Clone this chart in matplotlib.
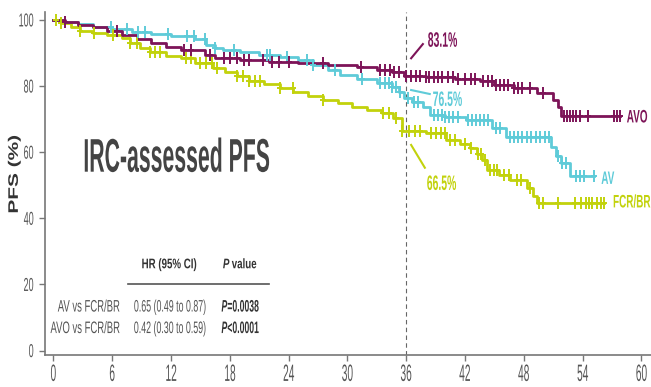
import numpy as np
import matplotlib
matplotlib.use("Agg")
import matplotlib.pyplot as plt
from matplotlib import patheffects
from matplotlib.path import Path
from matplotlib.text import Text
from matplotlib.transforms import Affine2D, Bbox

plt.rcParams['font.family'] = ['Liberation Sans', 'DejaVu Sans']

# step curves: event times (months) and PFS (%) after each event
avo_t = [0, 1.2, 2.5, 4, 5.5, 7, 8.5, 10, 11.5, 13, 15.5, 16.5, 19, 22, 25, 28, 31, 33,
         34.5, 35.8, 38, 41, 43.5, 45, 47, 49.3, 51, 51.5, 51.8]
avo_s = [100, 99.3, 98.6, 97.8, 96.7, 95.5, 94.3, 93, 91.8, 90.9, 89.5, 88.4, 87.9, 87.4,
         86.9, 86.4, 85.9, 84.9, 84.2, 83.1, 82.6, 82, 81.4, 80.2, 79.4, 77.8, 75.8, 73.8, 70.8]
avo_end = 57.8

av_t = [0, 1, 2.5, 4, 6, 8, 10, 12, 14.5, 15.6, 16.5, 17.3, 19, 21, 23.1, 25, 26.5, 28,
        29.2, 31, 33, 34.5, 35.3, 35.8, 36.6, 37.7, 38.4, 40, 42.1, 44.8, 46.2, 50.8, 51.3,
        51.8, 52.7]
av_s = [100, 99.4, 98.8, 98, 97.4, 96.5, 95.8, 95, 94.3, 92.4, 91.6, 90.9, 90.2, 89.5,
        88.9, 87.8, 86.4, 84.8, 83.4, 82.2, 80.9, 79.8, 78.2, 76.5, 75.2, 73.8, 71.3, 70.5,
        69.8, 67.3, 64.7, 61.7, 58.7, 56.7, 52.7]
av_end = 55.2

fcr_t = [0, 0.8, 1.8, 2.7, 4, 5.5, 7, 7.8, 8.8, 9.9, 11.5, 13, 14.5, 16.3, 17.5, 18.7, 20,
         21.5, 23.1, 24.5, 26, 27.5, 29, 30.5, 32, 33.5, 34.7, 35.6, 38, 40.1, 41.5, 42.5,
         43.2, 43.7, 44.2, 45.5, 46.6, 48.3, 48.9, 49.3]
fcr_s = [100, 99, 98, 96.8, 96, 95.3, 94.5, 93, 91.5, 90.2, 89.2, 88.4, 87, 85.4, 84.2,
         82.9, 81.6, 80.5, 79.3, 78.3, 77, 75.8, 74.8, 73.8, 72.8, 71.8, 70.3, 66.5, 65.8,
         63.7, 62.5, 61.2, 59.5, 57.7, 54.7, 53.2, 51.7, 49.2, 46.6, 44.6]
fcr_end = 56.2

# censoring times
avo_cens = [1.2, 6.5, 13.3, 14, 16, 17.4, 18, 18.7, 19.4, 20, 21.4, 22.3, 23, 24, 27.5,
            31.4, 33.3, 33.8, 34.3, 34.8, 35.3, 36, 36.5, 37, 37.4, 38, 38.3, 38.8, 39.2,
            39.7, 40.3, 40.8, 41.3, 42, 42.6, 43, 43.8, 44.3, 44.8, 45.2, 45.6, 46, 46.4,
            47, 47.4, 47.8, 48.6, 50, 52.1, 52.4, 52.7, 53, 53.3, 53.7, 54.5, 57.2, 57.5, 57.8]
av_cens = [5.9, 7.5, 8.6, 9.4, 11.7, 13.6, 14.3, 15.5, 16.5, 18.4, 21.8, 22.1, 23.8, 25.9,
           26.5, 28.7, 31.5, 33.3, 33.8, 34.2, 34.6, 35, 35.4, 36.2, 36.8, 37.2, 38.8, 39.2,
           39.6, 40, 40.4, 40.8, 41.3, 42.3, 42.7, 43.1, 43.5, 43.9, 44.3, 45.2, 45.6, 46.6,
           47, 47.4, 47.8, 48.3, 48.7, 49.2, 49.6, 50.2, 50.6, 51.5, 51.9, 52.3, 53.3, 53.7,
           54.1, 55.2]
fcr_cens = [0.3, 0.8, 2.7, 4.1, 6.1, 7.8, 8.5, 9.9, 10.4, 10.9, 13.5, 14, 15, 15.6, 16.2,
            16.7, 18.7, 19.3, 20, 20.6, 21.1, 23.1, 24.4, 27.5, 33.6, 34.2, 35, 35.6, 36.3,
            36.9, 37.4, 38.5, 39, 39.5, 40, 40.5, 41, 42, 42.6, 43.3, 43.6, 44, 44.5, 45,
            45.3, 46, 46.5, 47.3, 47.7, 48.6, 49.5, 50, 51.5, 53.2, 53.8, 54.3, 54.6, 55,
            55.5, 55.9, 56.2]

landmark = 36
landmark_vals = ['83.1%', '76.5%', '66.5%']
arm_names = ['AVO', 'AV', 'FCR/BR']
x_ticks = list(range(0, 61, 6))
y_ticks = [0, 20, 40, 60, 80, 100]

table_header = ['HR (95% CI)', 'value']
table_rows = [('AV vs FCR/BR', '0.65 (0.49 to 0.87)', '=0.0038'),
              ('AVO vs FCR/BR', '0.42 (0.30 to 0.59)', '<0.0001')]

c_avo = '#7d1458'
c_av = '#5fcbd8'
c_fcr = '#c2d20c'
grey = '#555555'
dark = '#333333'


class Squeeze(patheffects.AbstractPathEffect):
    """Draw glyphs narrower along the baseline (condensed look)."""

    def __init__(self, sx, align='left'):
        super().__init__()
        self.sx = sx
        self.align = align

    def draw_path(self, renderer, gc, tpath, affine, rgbFace=None):
        ext = tpath.get_extents()
        x0 = {'left': 0.0, 'center': (ext.x0 + ext.x1) / 2, 'right': ext.x1}[self.align]
        sq = Affine2D().translate(-x0, 0).scale(self.sx, 1).translate(x0, 0)
        renderer.draw_path(gc, tpath, sq + affine, rgbFace)


class NarrowText(Text):
    """Text drawn condensed, reporting the condensed extent."""

    def __init__(self, *args, sx=1.0, **kw):
        super().__init__(*args, **kw)
        self._sx = sx
        self.set_path_effects([Squeeze(sx, self.get_horizontalalignment())])

    def get_window_extent(self, renderer=None, dpi=None):
        bb = super().get_window_extent(renderer, dpi)
        w = bb.width * self._sx
        ha = self.get_horizontalalignment()
        if ha == 'left':
            x0 = bb.x0
        elif ha == 'right':
            x0 = bb.x1 - w
        else:
            x0 = bb.x0 + (bb.width - w) / 2
        return Bbox.from_bounds(x0, bb.y0, w, bb.height)


def ntext(ax, x, y, s, size, sx, ha='left', **kw):
    t = NarrowText(x, y, s, sx=sx, fontsize=size, ha=ha, va='baseline',
                   transform=ax.transData, **kw)
    ax.add_artist(t)
    return t


# narrow "+" for censor marks
cross = Path([(-0.55, 0), (0.55, 0), (0, -1), (0, 1)],
             [Path.MOVETO, Path.LINETO, Path.MOVETO, Path.LINETO])

fig = plt.figure(figsize=(6.51, 3.87), dpi=100)
ax = fig.add_axes([0.0684, 0.083, 0.932, 0.886])


def km(ax, t, s, end, cens, color):
    tt = list(t) + [end]
    ss = list(s) + [s[-1]]
    ax.step(tt, ss, where='post', color=color, lw=2.0, zorder=3)
    idx = np.searchsorted(t, cens, side='right') - 1
    cy = np.array(s)[idx]
    ax.plot(cens, cy, ls='none', marker=cross, ms=9, mew=1.4, color=color, zorder=4)


km(ax, fcr_t, fcr_s, fcr_end, fcr_cens, c_fcr)
km(ax, av_t, av_s, av_end, av_cens, c_av)
km(ax, avo_t, avo_s, avo_end, avo_cens, c_avo)

ax.axvline(landmark, color='#666666', lw=0.8, ls=(0, (4, 3)), zorder=1)

ax.set_xlim(-0.9, 61)
ax.set_ylim(-1.3, 102.4)
ax.set_xticks(x_ticks)
ax.set_yticks(y_ticks)
for sp in ['top', 'right']:
    ax.spines[sp].set_visible(False)
for sp in ['left', 'bottom']:
    ax.spines[sp].set_color('#777777')
    ax.spines[sp].set_linewidth(1.2)
ax.tick_params(colors='#777777', length=4.5, width=1, labelcolor=grey)
ax.tick_params(axis='x', labelsize=17, pad=2)
ax.tick_params(axis='y', labelsize=13.5, pad=3)
for lab in ax.get_xticklabels():
    lab.set_path_effects([Squeeze(0.43, 'center')])
for lab in ax.get_yticklabels():
    lab.set_path_effects([Squeeze(0.48, 'right')])

ax.set_ylabel('PFS (%)', fontweight='bold', fontsize=10, color=dark)
ax.yaxis.label.set_path_effects([Squeeze(1.5, 'center')])
ax.yaxis.set_label_coords(-0.039, 0.527)

# landmark annotations
ax.plot([36.5, 37.7], [88.4, 92.7], color=c_avo, lw=1.5)
ntext(ax, 38.2, 91.9, landmark_vals[0], 15, 0.5, color=c_avo, fontweight='bold')
ax.plot([36.5, 38.4], [78.8, 77.6], color=c_av, lw=1.5)
ntext(ax, 38.7, 74.0, landmark_vals[1], 15, 0.5, color=c_av, fontweight='bold')
ax.plot([36.5, 37.9], [62.2, 55.3], color=c_fcr, lw=1.5)
ntext(ax, 38.1, 48.6, landmark_vals[2], 15, 0.5, color=c_fcr, fontweight='bold')

# arm labels
ntext(ax, 58.5, 69.0, arm_names[0], 13, 0.55, color=c_avo, fontweight='bold')
ntext(ax, 55.9, 50.4, arm_names[1], 13, 0.55, color=c_av, fontweight='bold')
ntext(ax, 57.1, 43.3, arm_names[2], 13, 0.55, color=c_fcr, fontweight='bold')

ntext(ax, 3.06, 54.1, 'IRC-assessed PFS', 34, 0.45, color='#444444', fontweight='bold')

# hazard ratio table
ntext(ax, 11.8, 24.9, table_header[0], 10, 0.7, ha='center', color=dark, fontweight='bold')
ntext(ax, 17.3, 24.9, 'P', 10, 0.7, color=dark, fontweight='bold', fontstyle='italic')
ntext(ax, 18.2, 24.9, table_header[1], 10, 0.7, color=dark, fontweight='bold')
ax.plot([7.6, 22.0], [20.1, 20.1], color='#555555', lw=1.2)
for y, (cmp, hr, pv) in zip([11.8, 5.3], table_rows):
    ntext(ax, 6.8, y, cmp, 12, 0.57, ha='right', color=grey)
    ntext(ax, 11.9, y, hr, 12, 0.53, ha='center', color=grey)
    ntext(ax, 17.15, y, 'P', 12, 0.52, color=dark, fontweight='bold', fontstyle='italic')
    ntext(ax, 17.75, y, pv, 12, 0.52, color=dark, fontweight='bold')

fig.savefig('out.png', dpi=100)
